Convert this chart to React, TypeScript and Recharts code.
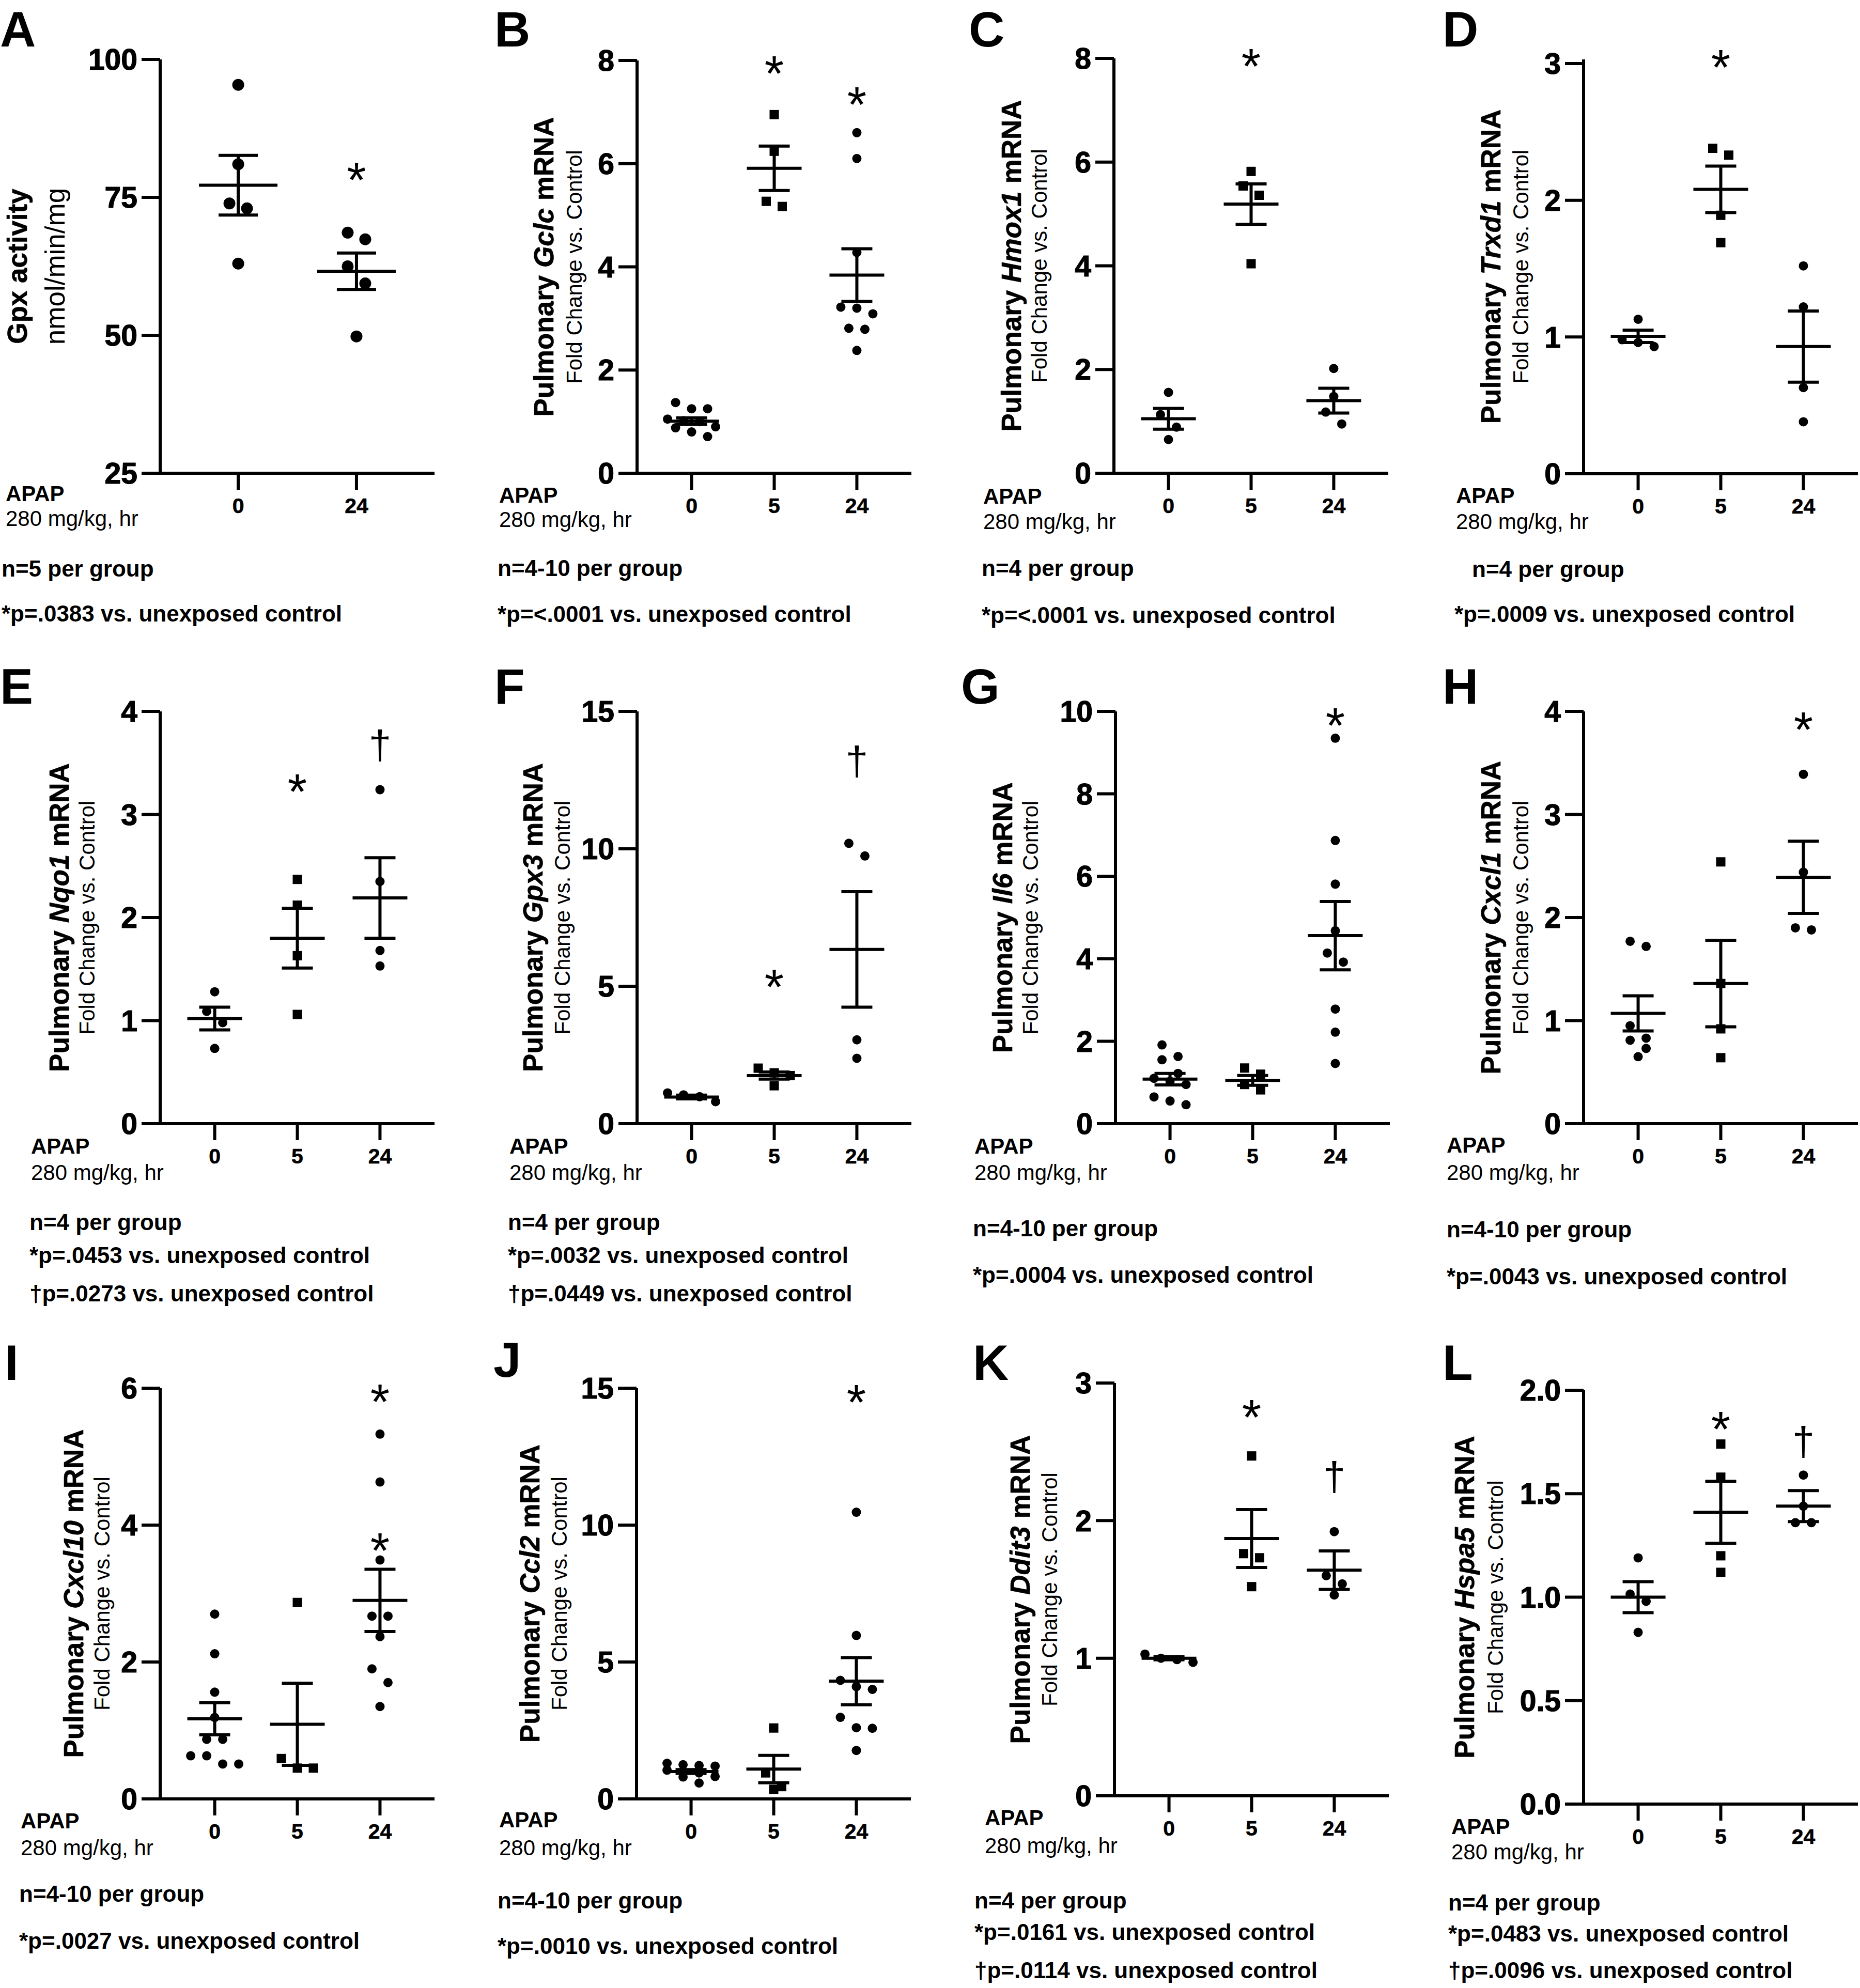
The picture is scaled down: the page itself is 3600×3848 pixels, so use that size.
import React from 'react';
import { ScatterChart, Scatter, XAxis, YAxis, ErrorBar } from 'recharts';

const FONT = "'Liberation Sans', Arial, Helvetica, sans-serif";

// ---------- categories / tick labels ----------
const hoursTwo = ['0', '24'];
const hoursThree = ['0', '5', '24'];
const ticks25to100 = [25, 50, 75, 100];
const ticks0to8 = [0, 2, 4, 6, 8];
const ticks0to3 = [0, 1, 2, 3];
const ticks0to4 = [0, 1, 2, 3, 4];
const ticks0to15 = [0, 5, 10, 15];
const ticks0to10 = [0, 2, 4, 6, 8, 10];
const ticks0to6 = [0, 2, 4, 6];
const ticks0to2 = [0, 0.5, 1, 1.5, 2];

// ---------- A: Gpx activity ----------
const gpx0 = [95.4, 81.0, 73.9, 73.0, 63.0];
const gpx24 = [68.6, 67.4, 62.5, 59.4, 49.8];
const gpxMean = [77.2, 61.6];
const gpxSem = [5.4, 3.3];

// ---------- B: Gclc ----------
const gclc0 = [1.37, 1.25, 1.25, 1.05, 1.02, 1.0, 0.9, 0.88, 0.8, 0.71];
const gclc5 = [6.95, 6.24, 5.27, 5.17];
const gclc24 = [6.6, 6.1, 4.28, 3.22, 3.2, 3.09, 2.81, 2.79, 2.38];
const gclcMean = [1.01, 5.91, 3.84];
const gclcSem = [0.065, 0.43, 0.51];

// ---------- C: Hmox1 ----------
const hmox0 = [1.56, 1.13, 0.89, 0.65];
const hmox5 = [5.82, 5.54, 5.36, 4.04];
const hmox24 = [2.02, 1.48, 1.18, 0.95];
const hmoxMean = [1.05, 5.19, 1.4];
const hmoxSem = [0.2, 0.39, 0.24];

// ---------- D: Trxd1 ----------
const trxd0 = [1.13, 0.98, 0.96, 0.93];
const trxd5 = [2.38, 2.33, 1.89, 1.69];
const trxd24 = [1.52, 1.22, 0.63, 0.38];
const trxdMean = [1.005, 2.08, 0.93];
const trxdSem = [0.045, 0.17, 0.26];

// ---------- E: Nqo1 ----------
const nqo0 = [1.28, 1.09, 0.98, 0.73];
const nqo5 = [2.37, 2.12, 1.63, 1.06];
const nqo24 = [3.24, 2.35, 1.68, 1.53];
const nqoMean = [1.02, 1.8, 2.19];
const nqoSem = [0.11, 0.29, 0.39];

// ---------- F: Gpx3 ----------
const gpx3_0 = [1.12, 1.05, 0.98, 0.8];
const gpx3_5 = [2.02, 1.85, 1.75, 1.38];
const gpx3_24 = [10.2, 9.74, 3.05, 2.38];
const gpx3Mean = [0.97, 1.75, 6.34];
const gpx3Sem = [0.07, 0.13, 2.1];

// ---------- G: Il6 ----------
const il6_0 = [1.91, 1.63, 1.55, 1.22, 1.1, 1.03, 0.95, 0.65, 0.55, 0.46];
const il6_5 = [1.35, 1.2, 0.95, 0.82];
const il6_24 = [9.35, 6.87, 5.81, 4.68, 4.14, 3.92, 2.78, 2.22, 1.46];
const il6Mean = [1.08, 1.05, 4.56];
const il6Sem = [0.14, 0.12, 0.83];

// ---------- H: Cxcl1 ----------
const cxcl1_0 = [1.77, 1.72, 0.95, 0.83, 0.81, 0.73, 0.65];
const cxcl1_5 = [2.54, 1.36, 0.92, 0.64];
const cxcl1_24 = [3.39, 2.44, 1.9, 1.88];
const cxcl1Mean = [1.07, 1.36, 2.39];
const cxcl1Sem = [0.17, 0.42, 0.35];

// ---------- I: Cxcl10 ----------
const cxcl10_0 = [2.7, 2.12, 1.56, 1.19, 0.87, 0.87, 0.63, 0.63, 0.51, 0.51];
const cxcl10_5 = [2.87, 0.59, 0.45, 0.45];
const cxcl10_24 = [5.33, 4.63, 3.49, 2.67, 2.67, 2.37, 1.9, 1.7, 1.35];
const cxcl10Mean = [1.17, 1.09, 2.9];
const cxcl10Sem = [0.235, 0.6, 0.455];

// ---------- J: Ccl2 ----------
const ccl2_0 = [1.3, 1.25, 1.22, 1.2, 1.05, 1.0, 0.95, 0.82, 0.8, 0.58];
const ccl2_5 = [2.59, 0.95, 0.45, 0.35];
const ccl2_24 = [10.47, 5.97, 4.33, 4.1, 4.0, 2.98, 2.6, 2.58, 1.77];
const ccl2Mean = [1.0, 1.09, 4.3];
const ccl2Sem = [0.07, 0.5, 0.86];

// ---------- K: Ddit3 ----------
const ddit0 = [1.03, 1.0, 0.99, 0.97];
const ddit5 = [2.47, 1.76, 1.73, 1.52];
const ddit24 = [1.92, 1.6, 1.54, 1.46];
const dditMean = [1.0, 1.87, 1.64];
const dditSem = [0.012, 0.21, 0.14];

// ---------- L: Hspa5 ----------
const hspa0 = [1.19, 1.015, 0.98, 0.83];
const hspa5 = [1.74, 1.58, 1.2, 1.12];
const hspa24 = [1.59, 1.44, 1.36, 1.36];
const hspaMean = [1.0, 1.41, 1.44];
const hspaSem = [0.075, 0.15, 0.075];

// ---------- significance marks (group index, y value, symbol) ----------
const marksA = [{ g: 1, y: 79.6, s: '*' }];
const marksB = [{ g: 1, y: 7.9, s: '*' }, { g: 2, y: 7.3, s: '*' }];
const marksC = [{ g: 1, y: 8.0, s: '*' }];
const marksD = [{ g: 1, y: 3.03, s: '*' }];
const marksE = [{ g: 1, y: 3.3, s: '*' }, { g: 2, y: 3.65, s: '†' }];
const marksF = [{ g: 1, y: 5.26, s: '*' }, { g: 2, y: 13.1, s: '†' }];
const marksG = [{ g: 2, y: 9.85, s: '*' }];
const marksH = [{ g: 2, y: 3.9, s: '*' }];
const marksI = [{ g: 2, y: 5.92, s: '*' }, { g: 2, y: 3.74, s: '*' }];
const marksJ = [{ g: 2, y: 14.77, s: '*' }];
const marksK = [{ g: 1, y: 2.81, s: '*' }, { g: 2, y: 2.3, s: '†' }];
const marksL = [{ g: 1, y: 1.85, s: '*' }, { g: 2, y: 1.74, s: '†' }];

// ---------- notes ----------
const notesA = ['n=5 per group', '*p=.0383 vs. unexposed control'];
const notesB = ['n=4-10 per group', '*p=<.0001 vs. unexposed control'];
const notesC = ['n=4 per group', '*p=<.0001 vs. unexposed control'];
const notesD = ['n=4 per group', '*p=.0009 vs. unexposed control'];
const notesE = ['n=4 per group', '*p=.0453 vs. unexposed control', '†p=.0273 vs. unexposed control'];
const notesF = ['n=4 per group', '*p=.0032 vs. unexposed control', '†p=.0449 vs. unexposed control'];
const notesG = ['n=4-10 per group', '*p=.0004 vs. unexposed control'];
const notesH = ['n=4-10 per group', '*p=.0043 vs. unexposed control'];
const notesI = ['n=4-10 per group', '*p=.0027 vs. unexposed control'];
const notesJ = ['n=4-10 per group', '*p=.0010 vs. unexposed control'];
const notesK = ['n=4 per group', '*p=.0161 vs. unexposed control', '†p=.0114 vs. unexposed control'];
const notesL = ['n=4 per group', '*p=.0483 vs. unexposed control', '†p=.0096 vs. unexposed control'];

type Mark = { g: number; y: number; s: string };
type Panel = {
  letter: string;
  cats: string[];
  groups: number[][];
  means: number[];
  sems: number[];
  ticks: number[];
  dec?: number;
  marks: Mark[];
  title: string[];
  sub: string;
  notes: string[];
  col: number; pl: number; pt: number; pb: number;
  boldX: number; subX: number; subSize: number;
  apapX: number; apapY: number; doseY: number;
  noteX: number[]; noteY: number[];
  letterX: number; letterY: number;
};

const FOLD = 'Fold Change vs. Control';

const panels: Panel[] = [
  { letter: 'A', cats: hoursTwo, groups: [gpx0, gpx24], means: gpxMean, sems: gpxSem, ticks: ticks25to100, marks: marksA,
    title: ['Gpx activity', '', ''], sub: 'nmol/min/mg', notes: notesA,
    col: 0, pl: 310, pt: 115, pb: 916, boldX: 52, subX: 125, subSize: 53,
    apapX: 11, apapY: 970, doseY: 1018, noteX: [3, 3], noteY: [1116, 1203], letterX: 0, letterY: 90 },
  { letter: 'B', cats: hoursThree, groups: [gclc0, gclc5, gclc24], means: gclcMean, sems: gclcSem, ticks: ticks0to8, marks: marksB,
    title: ['Pulmonary ', 'Gclc', ' mRNA'], sub: FOLD, notes: notesB,
    col: 900, pl: 333, pt: 117, pb: 916, boldX: 171, subX: 226, subSize: 42,
    apapX: 66, apapY: 973, doseY: 1020, noteX: [63, 63], noteY: [1115, 1204], letterX: 57, letterY: 90 },
  { letter: 'C', cats: hoursThree, groups: [hmox0, hmox5, hmox24], means: hmoxMean, sems: hmoxSem, ticks: ticks0to8, marks: marksC,
    title: ['Pulmonary ', 'Hmox1', ' mRNA'], sub: FOLD, notes: notesC,
    col: 1800, pl: 356, pt: 113, pb: 916, boldX: 176, subX: 226, subSize: 42,
    apapX: 103, apapY: 975, doseY: 1024, noteX: [100, 100], noteY: [1115, 1206], letterX: 75, letterY: 90 },
  { letter: 'D', cats: hoursThree, groups: [trxd0, trxd5, trxd24], means: trxdMean, sems: trxdSem, ticks: ticks0to3, marks: marksD,
    title: ['Pulmonary ', 'Trxd1', ' mRNA'], sub: FOLD, notes: notesD,
    col: 2700, pl: 365, pt: 115, pb: 917, boldX: 204, subX: 258, subSize: 42,
    apapX: 118, apapY: 974, doseY: 1024, noteX: [149, 115], noteY: [1117, 1204], letterX: 92, letterY: 90 },
  { letter: 'E', cats: hoursThree, groups: [nqo0, nqo5, nqo24], means: nqoMean, sems: nqoSem, ticks: ticks0to4, marks: marksE,
    title: ['Pulmonary ', 'Nqo1', ' mRNA'], sub: FOLD, notes: notesE,
    col: 0, pl: 310, pt: 1377, pb: 2175, boldX: 133, subX: 183, subSize: 42,
    apapX: 60, apapY: 2233, doseY: 2284, noteX: [57, 57, 57], noteY: [2381, 2445, 2519], letterX: 0, letterY: 1362 },
  { letter: 'F', cats: hoursThree, groups: [gpx3_0, gpx3_5, gpx3_24], means: gpx3Mean, sems: gpx3Sem, ticks: ticks0to15, marks: marksF,
    title: ['Pulmonary ', 'Gpx3', ' mRNA'], sub: FOLD, notes: notesF,
    col: 900, pl: 333, pt: 1377, pb: 2175, boldX: 150, subX: 203, subSize: 42,
    apapX: 86, apapY: 2233, doseY: 2284, noteX: [83, 83, 83], noteY: [2381, 2445, 2519], letterX: 57, letterY: 1362 },
  { letter: 'G', cats: hoursThree, groups: [il6_0, il6_5, il6_24], means: il6Mean, sems: il6Sem, ticks: ticks0to10, marks: marksG,
    title: ['Pulmonary ', 'Il6', ' mRNA'], sub: FOLD, notes: notesG,
    col: 1800, pl: 359, pt: 1377, pb: 2175, boldX: 159, subX: 209, subSize: 42,
    apapX: 86, apapY: 2233, doseY: 2284, noteX: [83, 83], noteY: [2393, 2483], letterX: 60, letterY: 1362 },
  { letter: 'H', cats: hoursThree, groups: [cxcl1_0, cxcl1_5, cxcl1_24], means: cxcl1Mean, sems: cxcl1Sem, ticks: ticks0to4, marks: marksH,
    title: ['Pulmonary ', 'Cxcl1', ' mRNA'], sub: FOLD, notes: notesH,
    col: 2700, pl: 365, pt: 1377, pb: 2175, boldX: 204, subX: 258, subSize: 42,
    apapX: 100, apapY: 2231, doseY: 2284, noteX: [100, 100], noteY: [2395, 2486], letterX: 92, letterY: 1362 },
  { letter: 'I', cats: hoursThree, groups: [cxcl10_0, cxcl10_5, cxcl10_24], means: cxcl10Mean, sems: cxcl10Sem, ticks: ticks0to6, marks: marksI,
    title: ['Pulmonary ', 'Cxcl10', ' mRNA'], sub: FOLD, notes: notesI,
    col: 0, pl: 310, pt: 2687, pb: 3482, boldX: 161, subX: 212, subSize: 42,
    apapX: 40, apapY: 3539, doseY: 3591, noteX: [37, 37], noteY: [3681, 3772], letterX: 9, letterY: 2671 },
  { letter: 'J', cats: hoursThree, groups: [ccl2_0, ccl2_5, ccl2_24], means: ccl2Mean, sems: ccl2Sem, ticks: ticks0to15, marks: marksJ,
    title: ['Pulmonary ', 'Ccl2', ' mRNA'], sub: FOLD, notes: notesJ,
    col: 900, pl: 332, pt: 2687, pb: 3482, boldX: 144, subX: 197, subSize: 42,
    apapX: 66, apapY: 3537, doseY: 3591, noteX: [63, 63], noteY: [3694, 3782], letterX: 55, letterY: 2665 },
  { letter: 'K', cats: hoursThree, groups: [ddit0, ddit5, ddit24], means: dditMean, sems: dditSem, ticks: ticks0to3, marks: marksK,
    title: ['Pulmonary ', 'Ddit3', ' mRNA'], sub: FOLD, notes: notesK,
    col: 1800, pl: 357, pt: 2677, pb: 3476, boldX: 193, subX: 246, subSize: 42,
    apapX: 106, apapY: 3533, doseY: 3587, noteX: [86, 86, 86], noteY: [3694, 3755, 3829], letterX: 83, letterY: 2671 },
  { letter: 'L', cats: hoursThree, groups: [hspa0, hspa5, hspa24], means: hspaMean, sems: hspaSem, ticks: ticks0to2, dec: 1, marks: marksL,
    title: ['Pulmonary ', 'Hspa5', ' mRNA'], sub: FOLD, notes: notesL,
    col: 2700, pl: 365, pt: 2691, pb: 3492, boldX: 153, subX: 209, subSize: 42,
    apapX: 109, apapY: 3550, doseY: 3599, noteX: [103, 103, 103], noteY: [3698, 3758, 3829], letterX: 92, letterY: 2671 },
];

const PW = 531;
const PAD = 0.66;
const AXW = 300;
const TOPM = 80;
const XAH = 110;

// Prism-like symmetric swarm: points that are close vertically share a row
function swarm(vals: number[], gi: number, pxPerY: number, pxPerX: number, diam: number, spacing: number) {
  const sorted = [...vals].sort((a, b) => b - a);
  const out: { x: number; y: number }[] = [];
  let i = 0;
  while (i < sorted.length) {
    const row = [sorted[i]];
    let j = i + 1;
    while (j < sorted.length && row.length < 4 && (sorted[i] - sorted[j]) * pxPerY < diam * 1.5) {
      row.push(sorted[j]);
      j++;
    }
    row.forEach((v, k) => out.push({ x: gi + ((k - (row.length - 1) / 2) * spacing) / pxPerX, y: v }));
    i = j;
  }
  return out;
}

function PanelChart({ p }: { p: Panel }) {
  const n = p.cats.length;
  const xDomain = [-PAD, n - 1 + PAD];
  const plotH = p.pb - p.pt;
  const W = AXW + PW + 20;
  const H = TOPM + plotH + XAH;
  const yMin = p.ticks[0];
  const yMax = p.ticks[p.ticks.length - 1];
  const pxPerX = PW / (xDomain[1] - xDomain[0]);
  const pxPerY = plotH / (yMax - yMin);
  const big = n === 2;
  const r = big ? 11.5 : 9;
  const sq = 18;
  const spacing = big ? 34 : 31;
  const meanW = big ? 152 : 106;
  const capHalf = big ? 38 : 30;

  const groupData = p.groups.map((vals, gi) => swarm(vals, gi, pxPerY, pxPerX, 2 * r, spacing));
  const meanData = p.means.map((m, gi) => ({ x: gi, y: m, sem: p.sems[gi] }));
  const markData = p.marks.map((m) => ({ x: m.g, y: m.y, s: m.s }));

  const circle = (props: any) => <circle cx={props.cx} cy={props.cy} r={r} fill="#000" />;
  const square = (props: any) => (
    <rect x={props.cx - sq / 2} y={props.cy - sq / 2} width={sq} height={sq} fill="#000" />
  );
  const meanShape = (props: any) => (
    <line x1={props.cx - meanW / 2} x2={props.cx + meanW / 2} y1={props.cy} y2={props.cy} stroke="#000" strokeWidth={6} />
  );
  const markShape = (props: any) => {
    const s = props.payload.s;
    const fs = s === '*' ? 96 : 78;
    const off = s === '*' ? 0.5 * fs : 0.28 * fs;
    return (
      <text x={props.cx} y={props.cy + off} textAnchor="middle" fontSize={fs} fontFamily={FONT} fill="#000">
        {s}
      </text>
    );
  };

  const axisStyle = { stroke: '#000', strokeWidth: 6 };

  return (
    <div style={{ position: 'absolute', left: p.col + p.pl - AXW, top: p.pt - TOPM, width: W, height: H }}>
      <ScatterChart width={W} height={H} margin={{ top: TOPM, right: 20, bottom: 0, left: 0 }}>
        <XAxis
          type="number"
          dataKey="x"
          domain={xDomain}
          ticks={p.cats.map((_, i) => i)}
          interval={0}
          tickFormatter={(v: number) => p.cats[Math.round(v)]}
          axisLine={axisStyle}
          tickLine={axisStyle}
          tickSize={32}
          tickMargin={16}
          height={XAH}
          tick={{ fill: '#000', fontSize: 41, fontWeight: 700, fontFamily: FONT, stroke: '#000', strokeWidth: 0.6 }}
        />
        <YAxis
          type="number"
          dataKey="y"
          domain={[yMin, yMax]}
          ticks={p.ticks}
          interval={0}
          width={AXW}
          tickFormatter={(v: number) => (p.dec ? v.toFixed(p.dec) : String(v))}
          axisLine={axisStyle}
          tickLine={axisStyle}
          tickSize={36}
          tickMargin={8}
          tick={{ fill: '#000', fontSize: 57, fontWeight: 700, fontFamily: FONT, stroke: '#000', strokeWidth: 1.2 }}
        />
        {groupData.map((d, gi) => (
          <Scatter
            key={gi}
            data={d}
            isAnimationActive={false}
            shape={p.cats[gi] === '5' ? square : circle}
          />
        ))}
        <Scatter data={meanData} isAnimationActive={false} shape={meanShape}>
          <ErrorBar dataKey="sem" direction="y" width={capHalf} stroke="#000" strokeWidth={6} isAnimationActive={false} />
        </Scatter>
        <Scatter data={markData} isAnimationActive={false} shape={markShape} />
      </ScatterChart>
    </div>
  );
}

function PanelText({ p }: { p: Panel }) {
  const cy = (p.pt + p.pb) / 2;
  return (
    <g>
      <text x={p.col + p.letterX} y={p.letterY} fontSize={96} fontWeight={700}>{p.letter}</text>
      <text
        transform={`translate(${p.col + p.boldX},${cy}) rotate(-90)`}
        textAnchor="middle"
        fontSize={53}
        fontWeight={700}
        stroke="#000"
        strokeWidth={0.6}
        style={{ whiteSpace: 'pre' }}
      >
        {p.title[0]}
        {p.title[1] ? <tspan fontStyle="italic">{p.title[1]}</tspan> : null}
        {p.title[2]}
      </text>
      <text transform={`translate(${p.col + p.subX},${cy}) rotate(-90)`} textAnchor="middle" fontSize={p.subSize}>
        {p.sub}
      </text>
      <text x={p.col + p.apapX} y={p.apapY} fontSize={42} fontWeight={700}>APAP</text>
      <text x={p.col + p.apapX} y={p.doseY} fontSize={42}>280 mg/kg, hr</text>
      {p.notes.map((t, i) => (
        <text key={i} x={p.col + p.noteX[i]} y={p.noteY[i]} fontSize={44} fontWeight={700} style={{ whiteSpace: 'pre' }}>
          {t}
        </text>
      ))}
    </g>
  );
}

export default function App() {
  return (
    <div
      style={{
        position: 'absolute',
        left: 0,
        top: 0,
        width: 3600,
        height: 3848,
        overflow: 'hidden',
        background: '#fff',
        fontFamily: FONT,
      }}
    >
      {panels.map((p) => (
        <PanelChart key={p.letter} p={p} />
      ))}
      <svg
        width={3600}
        height={3848}
        style={{ position: 'absolute', left: 0, top: 0, pointerEvents: 'none', fontFamily: FONT }}
        fill="#000"
      >
        {panels.map((p) => (
          <PanelText key={p.letter} p={p} />
        ))}
      </svg>
    </div>
  );
}
